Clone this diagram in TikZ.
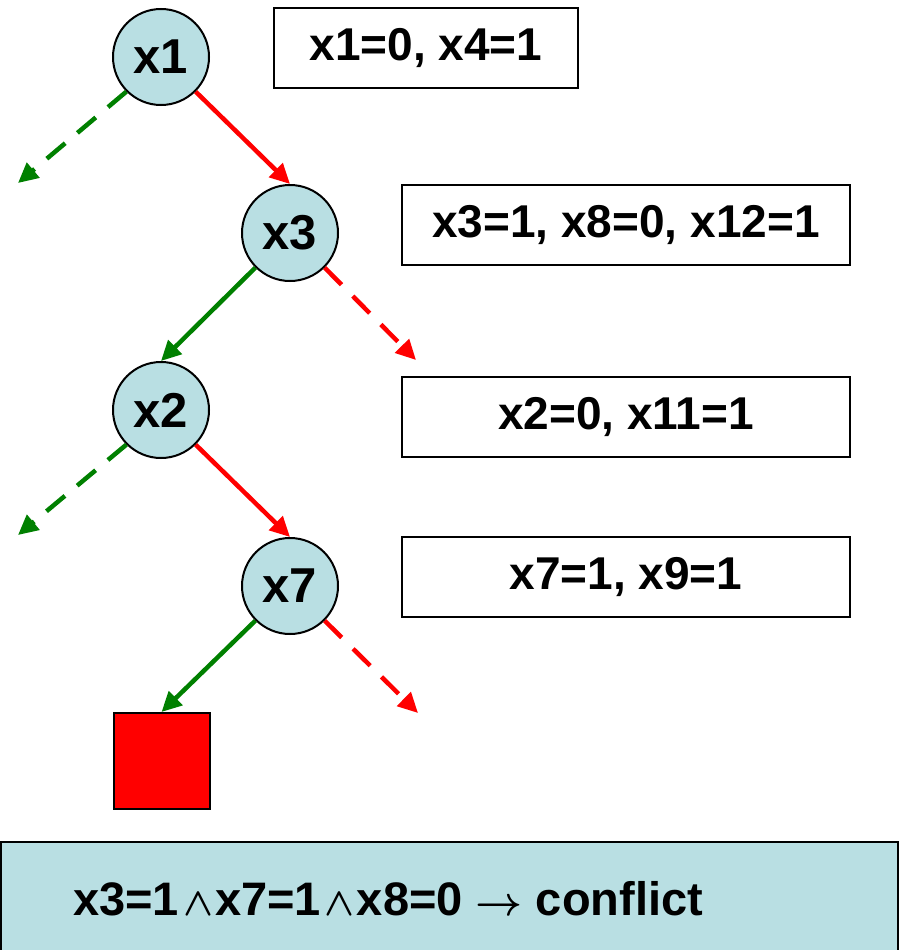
\documentclass[tikz,border=0pt]{standalone}
\usepackage{fontspec}
\setmainfont{Liberation Sans}
\usetikzlibrary{arrows.meta}
\definecolor{nodeblue}{HTML}{B9DFE3}
\definecolor{arrred}{HTML}{FF0000}
\definecolor{arrgreen}{HTML}{008000}
\newcommand{\andsym}{\hspace{4pt}\resizebox{30pt}{22pt}{\fontsize{10}{12}\selectfont\boldmath$\wedge$}\hspace{2pt}}
\newcommand{\impsym}{\resizebox{47pt}{!}{\fontsize{10}{12}\selectfont\boldmath$\rightarrow$}}
\tikzset{
  var/.style={circle, draw=black, line width=2pt, fill=nodeblue, minimum size=96pt, inner sep=0pt,
    font=\fontsize{49}{52}\selectfont\bfseries},
  info/.style={rectangle, draw=black, line width=2pt, fill=white, minimum height=80pt, inner sep=0pt,
    font=\fontsize{46}{50}\selectfont\bfseries},
  tip/.style={-{Triangle[length=20pt,width=19pt]}},
  redsolid/.style={tip, draw=arrred, line width=4.5pt},
  greensolid/.style={tip, draw=arrgreen, line width=4.5pt},
  reddash/.style={redsolid, dash pattern=on 24pt off 16pt},
  greendash/.style={greensolid, dash pattern=on 24pt off 16pt},
}
\begin{document}
\begin{tikzpicture}[x=1pt,y=-1pt]
\useasboundingbox (0,0) rectangle (904,950);
% bottom box
\fill[nodeblue] (1,842) rectangle (898,960);
\draw[line width=2pt] (1,960) -- (1,842) -- (898,842) -- (898,960);
\node[anchor=base west, inner sep=0pt, font=\fontsize{47}{52}\selectfont\bfseries] (concl) at (73,915)
  {x3=1\andsym x7=1\andsym x8=0 \impsym{} conflict};

% variable nodes
\node[var] (x1) at (161,57) {x1};
\node[var] (x3) at (290,233) {x3};
\node[var] (x2) at (161,410) {x2};
\node[var] (x7) at (290,586) {x7};
\node[rectangle, draw=black, line width=2pt, fill=arrred, minimum size=96pt, inner sep=0pt] (sq) at (161.5,761) {};

% info boxes
\node[info, minimum width=304pt] (b1) at (426,48) {x1=0, x4=1};
\node[info, minimum width=448pt] (b2) at (626,225) {x3=1, x8=0, x12=1};
\node[info, minimum width=448pt] (b3) at (626,417) {x2=0, x11=1};
\node[info, minimum width=448pt] (b4) at (626,577) {x7=1, x9=1};

% free ends
\coordinate (g1) at (18,183);
\coordinate (r3) at (416,360);
\coordinate (g2) at (18,535);
\coordinate (r7) at (418,713);

% connectors
\draw[greendash] (x1.225) -- (g1);
\draw[redsolid] (x1.-45) -- (x3.north);
\draw[greensolid] (x3.225) -- (x2.north);
\draw[reddash] (x3.-45) -- (r3);
\draw[greendash] (x2.225) -- (g2);
\draw[redsolid] (x2.-45) -- (x7.north);
\draw[greensolid] (x7.225) -- (sq.north);
\draw[reddash] (x7.-45) -- (r7);
\end{tikzpicture}
\end{document}
